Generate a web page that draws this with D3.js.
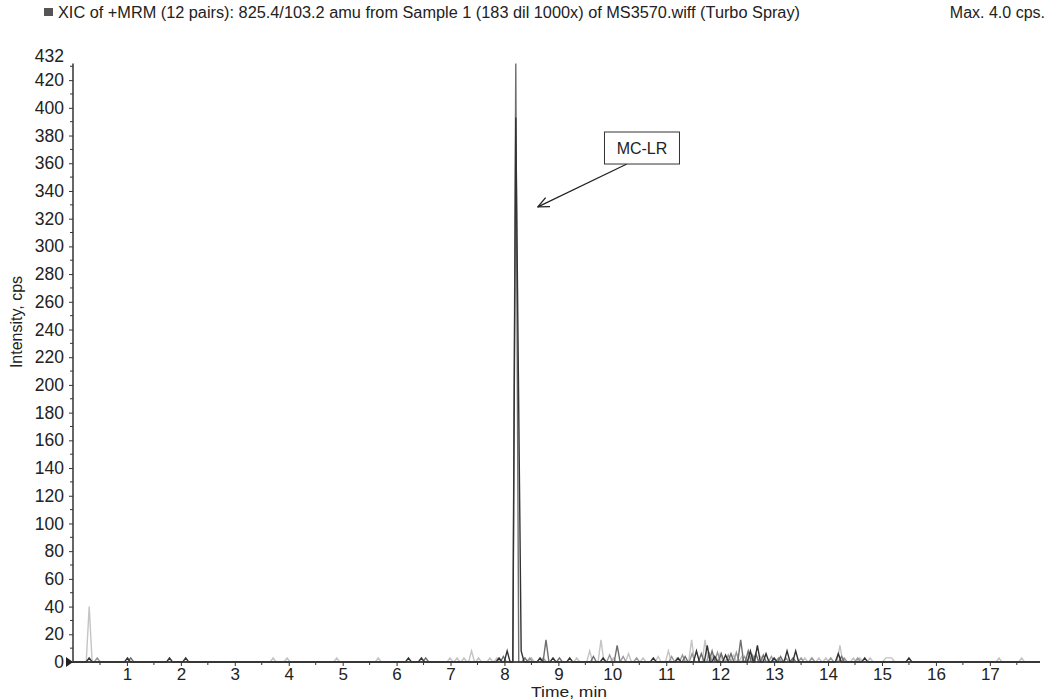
<!DOCTYPE html>
<html>
<head>
<meta charset="utf-8">
<script src="https://cdn.jsdelivr.net/npm/d3@7"></script>
<style>
body { margin: 0; background: #fff; }
text { font-family: Arial, "Liberation Sans", sans-serif; fill: #222; }
</style>
</head>
<body>
<svg id="chart" width="1051" height="700"></svg>
<script>
// Header text
var titleText = 'XIC of +MRM (12 pairs): 825.4/103.2 amu from Sample 1 (183 dil 1000x) of MS3570.wiff (Turbo Spray)';
var maxText = 'Max. 4.0 cps.';

// Axis settings
var xTicks = d3.range(1, 18);
var yTicks = d3.range(0, 421, 20);
var yTop = 432;
var xMax = 17.93;
var sampleStep = 0.055; // minutes between scans

// Traces: times (min) of non-zero scans and their intensities (cps)
var darkTimes = [0.30, 1.01, 1.79, 2.09, 6.22, 6.46, 7.90, 8.05, 8.21, 8.31, 8.66, 8.90, 9.21, 9.83, 10.76, 11.22, 11.56, 11.76, 11.90, 12.10, 12.56, 12.69, 12.85, 13.00, 13.24, 13.40, 14.19, 14.68, 15.50];
var darkValues = [3, 3, 3, 3, 3, 3, 3, 8, 393, 8, 3, 3, 3, 3, 3, 3, 8, 12, 4, 5, 8, 12, 6, 3, 8, 8, 6, 3, 3];

var midTimes = [1.07, 6.54, 7.98, 8.21, 8.38, 8.77, 9.02, 9.65, 10.09, 11.35, 11.65, 11.85, 12.02, 12.20, 12.38, 12.52, 12.66, 12.80, 13.12, 13.35, 14.25];
var midValues = [3, 3, 4, 432, 3, 16, 3, 4, 12, 4, 6, 8, 6, 6, 16, 8, 6, 5, 4, 3, 4];

var grayTimes = [0.45, 8.47, 8.72, 9.95, 10.20, 10.45, 11.10, 11.30, 11.48, 11.80, 11.95, 12.15, 12.30, 12.45, 12.60, 12.95, 13.08, 13.22, 13.50, 13.70, 14.05, 14.30, 14.55];
var grayValues = [3, 3, 3, 5, 4, 3, 4, 5, 6, 6, 7, 5, 7, 4, 5, 4, 3, 3, 3, 3, 3, 3, 3];

var lightTimes = [0.30, 3.71, 3.97, 4.89, 5.66, 6.99, 7.12, 7.25, 7.39, 7.52, 7.73, 7.86, 8.50, 9.34, 9.58, 9.79, 10.02, 10.30, 10.57, 10.85, 11.04, 11.20, 11.47, 11.72, 11.88, 12.00, 12.25, 12.40, 12.55, 12.75, 13.10, 13.57, 13.70, 13.83, 13.96, 14.22, 14.47, 14.59, 14.78, 15.07, 15.18, 17.17, 17.59];
var lightValues = [40, 3, 3, 3, 3, 3, 3, 3, 8, 3, 3, 3, 3, 3, 8, 16, 3, 6, 3, 4, 8, 3, 16, 16, 5, 6, 5, 4, 6, 4, 3, 3, 3, 3, 3, 12, 3, 3, 3, 3, 3, 3, 3];

// Annotation
var peakLabel = 'MC-LR';
var labelAt = [10.55, 371];
var arrowFrom = [10.27, 359.5];
var arrowTo = [8.62, 328.5];

var svg = d3.select('#chart');

var x = d3.scaleLinear().domain([0, xMax]).range([73, 1040]);
var y = d3.scaleLinear().domain([0, yTop]).range([662, 63.5]);

// turn the non-zero scans into a chromatogram line that drops to zero between them
function tracePoints(times, values) {
    var pts = [[0, 0]];
    for (var i = 0; i < times.length; i++) {
        if (i === 0 || times[i] - times[i - 1] > 2 * sampleStep) {
            pts.push([times[i] - sampleStep, 0]);
        }
        pts.push([times[i], values[i]]);
        if (i === times.length - 1 || times[i + 1] - times[i] > 2 * sampleStep) {
            pts.push([times[i] + sampleStep, 0]);
        }
    }
    pts.push([xMax, 0]);
    return pts;
}

var line = d3.line()
    .x(function(d) { return x(d[0]); })
    .y(function(d) { return y(d[1]); });

var traces = [
    {times: lightTimes, values: lightValues, color: '#c4c4c4'},
    {times: grayTimes, values: grayValues, color: '#999999'},
    {times: midTimes, values: midValues, color: '#6e6e6e'},
    {times: darkTimes, values: darkValues, color: '#333333'}
];

svg.append('g').selectAll('path')
    .data(traces)
    .enter()
    .append('path')
    .attr('d', function(d) { return line(tracePoints(d.times, d.values)); })
    .attr('fill', 'none')
    .attr('stroke', function(d) { return d.color; })
    .attr('stroke-width', 1.4)
    .attr('stroke-linejoin', 'miter');

// x axis
var xAxis = d3.axisBottom(x)
    .tickValues(xTicks)
    .tickSize(4)
    .tickPadding(2)
    .tickFormat(d3.format('d'));

var xG = svg.append('g')
    .attr('transform', 'translate(0,' + y(0) + ')')
    .call(xAxis);
xG.select('.domain').remove();

// minor x ticks
svg.append('g').selectAll('line')
    .data(d3.range(0.5, 17.6, 1))
    .enter()
    .append('line')
    .attr('x1', function(d) { return x(d); })
    .attr('x2', function(d) { return x(d); })
    .attr('y1', y(0))
    .attr('y2', y(0) + 3)
    .attr('stroke', '#333');

// y axis
var yAxis = d3.axisLeft(y)
    .tickValues(yTicks)
    .tickSize(4)
    .tickPadding(5)
    .tickFormat(d3.format('d'));

var yG = svg.append('g')
    .attr('transform', 'translate(' + x(0) + ',0)')
    .call(yAxis);
yG.select('.domain').remove();

svg.append('g').selectAll('line')
    .data(d3.range(10, 431, 20))
    .enter()
    .append('line')
    .attr('x1', x(0))
    .attr('x2', x(0) - 3)
    .attr('y1', function(d) { return y(d); })
    .attr('y2', function(d) { return y(d); })
    .attr('stroke', '#333');

[xG, yG].forEach(function(g) {
    g.selectAll('.tick line').attr('stroke', '#333');
    g.selectAll('.tick text')
        .attr('fill', '#222')
        .style('font-size', '17.5px')
        .style('font-family', 'Arial, "Liberation Sans", sans-serif');
});
xG.selectAll('.tick text').style('font-size', '17px');

// axis lines drawn on top of baseline
svg.append('line')
    .attr('x1', x(0)).attr('x2', x(xMax))
    .attr('y1', y(0)).attr('y2', y(0))
    .attr('stroke', '#333').attr('stroke-width', 1.5);
svg.append('line')
    .attr('x1', x(0)).attr('x2', x(0))
    .attr('y1', y(0)).attr('y2', y(yTop))
    .attr('stroke', '#333').attr('stroke-width', 1.5);

// top label of y axis
svg.append('text')
    .attr('x', x(0) - 9)
    .attr('y', y(yTop) - 8)
    .attr('dy', '0.35em')
    .attr('text-anchor', 'end')
    .style('font-size', '17.5px')
    .text(yTop);

// zero marker
svg.append('path')
    .attr('d', 'M' + (x(0) - 7) + ',' + (y(0) - 5) + 'L' + x(0) + ',' + y(0) + 'L' + (x(0) - 7) + ',' + (y(0) + 5) + 'Z')
    .attr('fill', '#222');

// axis titles
svg.append('text')
    .attr('transform', 'translate(22,' + 322 + ') rotate(-90)')
    .attr('text-anchor', 'middle')
    .style('font-size', '16px')
    .text('Intensity, cps');

svg.append('text')
    .attr('x', 569)
    .attr('y', 697)
    .attr('text-anchor', 'middle')
    .style('font-size', '14px')
    .attr('textLength', 76)
    .attr('lengthAdjust', 'spacingAndGlyphs')
    .text('Time, min');

// header
svg.append('rect')
    .attr('x', 44).attr('y', 8)
    .attr('width', 9).attr('height', 8)
    .attr('fill', '#555');
svg.append('text')
    .attr('x', 58).attr('y', 18)
    .style('font-size', '16px')
    .attr('textLength', 742)
    .attr('lengthAdjust', 'spacingAndGlyphs')
    .text(titleText);
svg.append('text')
    .attr('x', 1045).attr('y', 18)
    .attr('text-anchor', 'end')
    .style('font-size', '16px')
    .text(maxText);

// annotation
svg.append('defs').append('marker')
    .attr('id', 'openArrow')
    .attr('viewBox', '0 0 12 12')
    .attr('refX', 11).attr('refY', 6)
    .attr('markerWidth', 12).attr('markerHeight', 12)
    .attr('markerUnits', 'userSpaceOnUse')
    .attr('orient', 'auto')
    .append('path')
    .attr('d', 'M0,1 L11,6 L0,11')
    .attr('fill', 'none')
    .attr('stroke', '#222')
    .attr('stroke-width', 1.3);

svg.append('line')
    .attr('x1', x(arrowFrom[0])).attr('y1', y(arrowFrom[1]))
    .attr('x2', x(arrowTo[0])).attr('y2', y(arrowTo[1]))
    .attr('stroke', '#222')
    .attr('stroke-width', 1.2)
    .attr('marker-end', 'url(#openArrow)');

var boxW = 75, boxH = 32;
svg.append('rect')
    .attr('x', x(labelAt[0]) - boxW / 2)
    .attr('y', y(labelAt[1]) - boxH / 2)
    .attr('width', boxW).attr('height', boxH)
    .attr('fill', '#fff')
    .attr('stroke', '#333')
    .attr('stroke-width', 1);
svg.append('text')
    .attr('x', x(labelAt[0]))
    .attr('y', y(labelAt[1]))
    .attr('dy', '0.35em')
    .attr('text-anchor', 'middle')
    .style('font-size', '16px')
    .text(peakLabel);
</script>
</body>
</html>
